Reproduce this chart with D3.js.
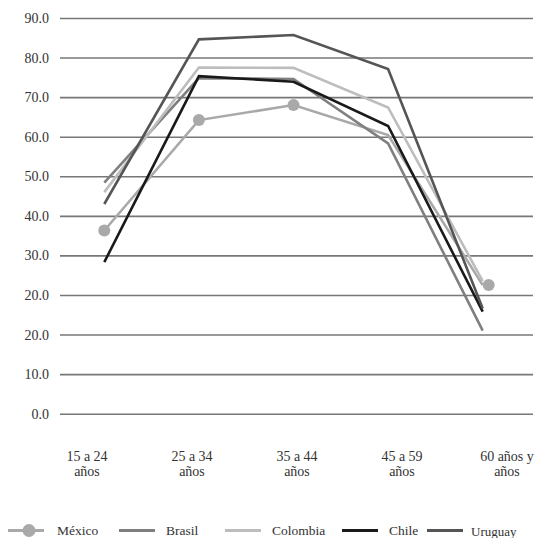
<!DOCTYPE html>
<html>
<head>
<meta charset="utf-8">
<script src="https://cdn.jsdelivr.net/npm/d3@7/dist/d3.min.js"></script>
<style>
  html, body { margin: 0; padding: 0; background: #fff; }
  svg { display: block; }
  svg text { font-family: "Liberation Serif", "DejaVu Serif", serif; fill: #333; }
</style>
</head>
<body>
<svg id="chart" width="554" height="538"></svg>
<script>
// Age groups (two-line labels)
const ageGroups = [["15 a 24", "años"], ["25 a 34", "años"], ["35 a 44", "años"], ["45 a 59", "años"], ["60 años y", "años"]];

// Participation by age group, one array per country
const mexico   = [36.3, 64.2, 68.0, 60.4, 22.5];
const brasil   = [48.4, 74.8, 74.6, 58.3, 11.0];
const colombia = [46.0, 77.5, 77.4, 67.4, 23.5];
const chile    = [28.3, 75.3, 73.9, 62.7, 15.8];
const uruguay  = [43.0, 84.6, 85.7, 77.1, 16.6];

// Labels printed on the vertical axis, bottom to top
const yTickLabels = ["0.0", "10.0", "20.0", "20.0", "30.0", "40.0", "50.0", "60.0", "70.0", "80.0", "90.0"];

const seriesNames = ["México", "Brasil", "Colombia", "Chile", "Uruguay"];
const seriesValues = [mexico, brasil, colombia, chile, uruguay];
const seriesColors = ["#a9a9a9", "#7f7f7f", "#bdbdbd", "#1a1a1a", "#555555"];

const FONT = '"Liberation Serif", "DejaVu Serif", serif';
const svg = d3.select("#chart");

const cats = ageGroups.map(d => d.join(" "));
const x = d3.scalePoint().domain(cats).range([57, 530]).padding(0.5);
const xLabel = d3.scalePoint().domain(cats).range([34.5, 559.5]).padding(0.5);
const tickValues = yTickLabels.map((_, i) => -10 + i * 10);
const y = d3.scaleLinear().domain([-10, 90]).range([413.7, 18]);

// Horizontal gridlines with labels
const yAxis = d3.axisLeft(y)
  .tickValues(tickValues)
  .tickSize(-(533 - 60))
  .tickPadding(11)
  .tickFormat((d, i) => yTickLabels[i]);

const gy = svg.append("g").attr("transform", "translate(60,0)").call(yAxis);
gy.attr("font-family", FONT);
gy.select(".domain").remove();
gy.selectAll(".tick line").attr("stroke", "#777").attr("stroke-width", 1.6);
gy.selectAll(".tick text")
  .style("font-family", FONT)
  .attr("font-size", 14).attr("fill", "#333");

// Category labels below the plot
const xl = svg.append("g");
ageGroups.forEach((lines, i) => {
  const t = xl.append("text")
    .attr("x", xLabel(cats[i]))
    .attr("y", 460.5)
    .attr("text-anchor", "middle")
    .style("font-family", FONT)
    .attr("font-size", 14);
  lines.forEach((ln, j) => {
    t.append("tspan").attr("x", xLabel(cats[i])).attr("dy", j === 0 ? 0 : 15).text(ln);
  });
});

// Series lines
const line = d3.line().x((d, i) => x(cats[i])).y(d => y(d));
seriesValues.forEach((vals, s) => {
  svg.append("path")
    .datum(vals)
    .attr("fill", "none")
    .attr("stroke", seriesColors[s])
    .attr("stroke-width", 2.6)
    .attr("stroke-linejoin", "miter")
    .attr("d", line);
});

// México markers (no marker shown on the 45 a 59 point)
const markedIdx = [0, 1, 2, 4];
svg.append("g").selectAll("circle")
  .data(markedIdx)
  .join("circle")
  .attr("cx", i => x(cats[i]) + (i === 4 ? 6 : 0))
  .attr("cy", i => y(mexico[i]))
  .attr("r", 6)
  .attr("fill", seriesColors[0]);

// Legend
const legendStarts = [8, 119, 225, 342, 427];
const legendY = 530.5;
seriesNames.forEach((name, s) => {
  const g = svg.append("g").attr("transform", `translate(${legendStarts[s]},${legendY})`);
  g.append("line").attr("x1", 0).attr("x2", 36).attr("y1", 0).attr("y2", 0)
    .attr("stroke", seriesColors[s]).attr("stroke-width", 3);
  if (s === 0) {
    g.append("circle").attr("cx", 21).attr("cy", 0).attr("r", 6.5).attr("fill", seriesColors[0]);
  }
  g.append("text")
    .attr("x", s === 0 ? 49 : (s === 4 ? 44 : 47))
    .attr("y", s === 4 ? 5.5 : 4.5)
    .style("font-family", FONT)
    .attr("font-size", s === 4 ? 13 : 13.5)
    .text(name);
});
</script>
</body>
</html>
